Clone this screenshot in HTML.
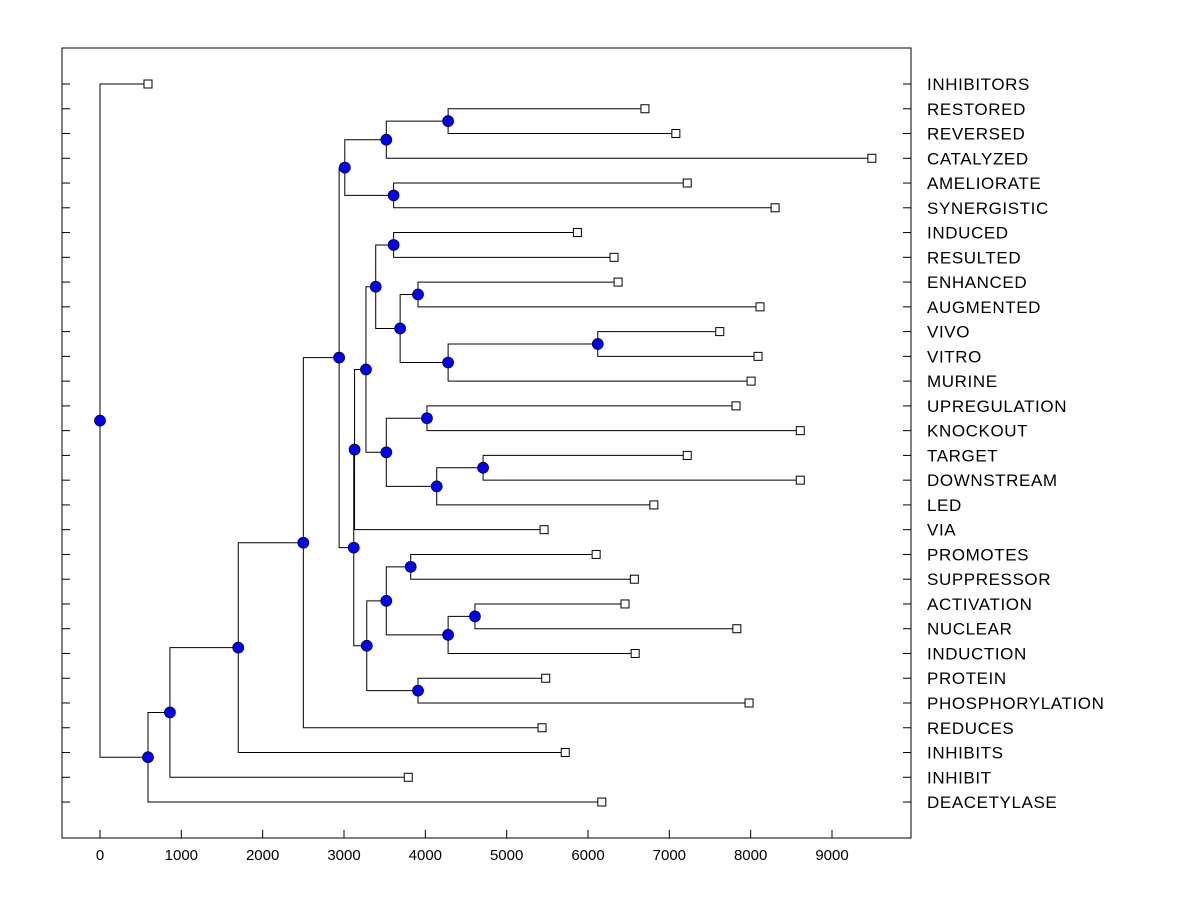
<!DOCTYPE html>
<html><head><meta charset="utf-8"><style>
body{margin:0;background:#fff;}
svg{display:block;font-family:"Liberation Sans",Arial,sans-serif;}
</style></head><body>
<svg id="chart" width="1200" height="900" viewBox="0 0 1200 900"></svg>
<script>
const labels=["INHIBITORS","RESTORED","REVERSED","CATALYZED","AMELIORATE","SYNERGISTIC","INDUCED","RESULTED","ENHANCED","AUGMENTED","VIVO","VITRO","MURINE","UPREGULATION","KNOCKOUT","TARGET","DOWNSTREAM","LED","VIA","PROMOTES","SUPPRESSOR","ACTIVATION","NUCLEAR","INDUCTION","PROTEIN","PHOSPHORYLATION","REDUCES","INHIBITS","INHIBIT","DEACETYLASE"];
const leafValues=[590,6700,7080,9490,7220,8300,5870,6320,6370,8115,7620,8090,8005,7820,8610,7220,8610,6810,5460,6100,6570,6455,7830,6580,5480,7980,5435,5720,3790,6170];
const nodeNames=["N10","N8","N9","N6","N16","N18","N20","N19","N17","N14","N21","N23","N22","N15","N13","N11","N26","N28","N27","N24","N25","N12","N7","N5","N4","N3","N2","N1","root"];
const nodeValues=[4280,3520,3610,3010,3610,3910,6120,4280,3690,3390,4020,4710,4140,3520,3270,3130,3820,4610,4280,3520,3910,3280,3120,2940,2500,1700,860,590,0];
const nodeChildren=[[1,2],["N10",3],[4,5],["N8","N9"],[6,7],[8,9],[10,11],["N20",12],["N18","N19"],["N16","N17"],[13,14],[15,16],["N23",17],["N21","N22"],["N14","N15"],["N13",18],[19,20],[21,22],["N28",23],["N26","N27"],[24,25],["N24","N25"],["N11","N12"],["N6","N7"],["N5",26],["N4",27],["N3",28],["N2",29],[0,"N1"]];
const xTicks=[0,1000,2000,3000,4000,5000,6000,7000,8000,9000];

const NS="http://www.w3.org/2000/svg";
const svg=document.getElementById('chart');
const L=62,R=911,T=48,B=838;
const xs=v=>100+v*(732/9000);
const rowY=i=>84+i*24.76;
function mk(tag,attrs,parent){const e=document.createElementNS(NS,tag);for(const k in attrs)e.setAttribute(k,attrs[k]);(parent||svg).appendChild(e);return e;}

const frame=mk('rect',{x:L,y:T,width:R-L,height:B-T,fill:'none',stroke:'#000','stroke-width':1});



const yax=mk('g',{});


labels.forEach((lb,i)=>{
  const y=rowY(i);
  mk('line',{x1:L,x2:L+8,y1:y,y2:y,stroke:'#000'},yax);
  mk('line',{x1:R-8,x2:R,y1:y,y2:y,stroke:'#000'},yax);
  const t=mk('text',{x:927,y:y+6,'font-size':17,'letter-spacing':0.6,fill:'#000'},yax);
  t.textContent=lb;
  
  
});
const xax=mk('g',{});


xTicks.forEach(v=>{
  const x=xs(v);
  mk('line',{x1:x,x2:x,y1:B-8,y2:B,stroke:'#000'},xax);
  const t=mk('text',{x:x,y:860,'font-size':15,'text-anchor':'middle',fill:'#000'},xax);
  t.textContent=v;
  
  
});

const pos={};
function getPos(c){
  if(typeof c==='number') return {x:xs(leafValues[c]),y:rowY(c)};
  if(pos[c]) return pos[c];
  const i=nodeNames.indexOf(c);
  const a=getPos(nodeChildren[i][0]),b=getPos(nodeChildren[i][1]);
  pos[c]={x:xs(nodeValues[i]),y:(a.y+b.y)/2};
  return pos[c];
}
const lines=mk('g',{});


nodeNames.forEach((n,i)=>{
  const p=getPos(n);
  const a=getPos(nodeChildren[i][0]),b=getPos(nodeChildren[i][1]);
  mk('polyline',{points:`${a.x},${a.y} ${p.x},${a.y} ${p.x},${b.y} ${b.x},${b.y}`,fill:'none',stroke:'#000','stroke-width':1},lines);
});
const marks=mk('g',{});


leafValues.forEach((v,i)=>{
  const r=mk('rect',{x:xs(v)-4,y:rowY(i)-4,width:8,height:8,fill:'#fff',stroke:'#000'},marks);
  
  
});
nodeNames.forEach(n=>{
  const p=getPos(n);
  const c=mk('circle',{cx:p.x,cy:p.y,r:5.5,fill:'#0000ff',stroke:'#000','stroke-width':0.7},marks);
  
  
});
</script>
</body></html>
